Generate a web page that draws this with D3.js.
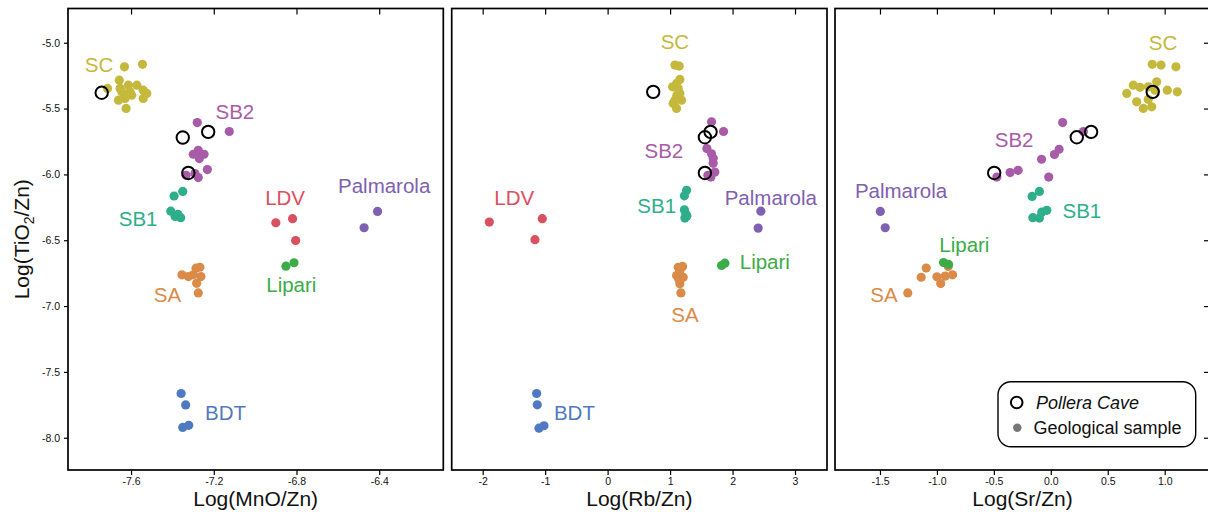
<!DOCTYPE html>
<html>
<head>
<meta charset="utf-8">
<script src="https://cdn.jsdelivr.net/npm/d3@7"></script>
<style>
  body { margin: 0; background: #fff; }
  svg { display: block; font-family: "Liberation Sans", Arial, Helvetica, sans-serif; }
</style>
</head>
<body>
<svg></svg>
<script>
// groups, in draw order
const groupNames = ["BDT", "SA", "Lipari", "Palmarola", "LDV", "SB1", "SB2", "SC"];
const groupColors = ["#4f7ac2", "#da8b48", "#3cac48", "#8060b0", "#d9505f", "#2eae8b", "#a85ca8", "#c4b93c"];

// Log(MnO/Zn) vs Log(TiO2/Zn)
const mnoBDT = [[-7.358, -7.664], [-7.336, -7.751], [-7.350, -7.922], [-7.321, -7.906]];
const mnoSA = [[-7.354, -6.763], [-7.323, -6.776], [-7.299, -6.763], [-7.286, -6.712], [-7.267, -6.705], [-7.262, -6.776], [-7.283, -6.827], [-7.275, -6.900]];
const mnoLipari = [[-6.851, -6.697], [-6.812, -6.671]];
const mnoPalmarola = [[-6.408, -6.281], [-6.473, -6.405]];
const mnoLDV = [[-6.900, -6.367], [-6.819, -6.336], [-6.804, -6.502]];
const mnoSB1 = [[-7.392, -6.164], [-7.350, -6.129], [-7.408, -6.279], [-7.387, -6.319], [-7.360, -6.329], [-7.373, -6.304]];
const mnoSB2 = [[-7.280, -5.606], [-7.125, -5.674], [-7.275, -5.817], [-7.299, -5.847], [-7.247, -5.847], [-7.270, -5.880], [-7.231, -5.963], [-7.291, -5.994], [-7.275, -6.024], [-7.334, -6.007]];
const mnoSC = [[-7.632, -5.183], [-7.545, -5.164], [-7.657, -5.284], [-7.714, -5.347], [-7.653, -5.347], [-7.613, -5.322], [-7.572, -5.322], [-7.541, -5.360], [-7.524, -5.385], [-7.541, -5.423], [-7.597, -5.398], [-7.629, -5.423], [-7.661, -5.436], [-7.624, -5.499], [-7.605, -5.373], [-7.645, -5.373]];
const mnoCave = [[-7.742, -5.380], [-7.350, -5.720], [-7.227, -5.677], [-7.323, -5.989]];

// Log(Rb/Zn) vs Log(TiO2/Zn)
const rbBDT = [[-1.136, -7.664], [-1.126, -7.750], [-1.099, -7.927], [-1.019, -7.909]];
const rbSA = [[1.130, -6.705], [1.200, -6.699], [1.104, -6.768], [1.210, -6.781], [1.157, -6.831], [1.173, -6.900], [1.157, -6.730], [1.141, -6.798]];
const rbLipari = [[1.824, -6.692], [1.877, -6.674]];
const rbPalmarola = [[2.453, -6.279], [2.410, -6.408]];
const rbLDV = [[-1.894, -6.362], [-1.046, -6.336], [-1.163, -6.496]];
const rbSB1 = [[1.264, -6.121], [1.229, -6.163], [1.229, -6.269], [1.253, -6.300], [1.237, -6.332], [1.269, -6.315]];
const rbSB2 = [[1.664, -5.601], [1.856, -5.674], [1.589, -5.804], [1.664, -5.843], [1.690, -5.877], [1.690, -5.916], [1.717, -5.982], [1.653, -6.020], [1.605, -6.007]];
const rbSC = [[1.077, -5.170], [1.146, -5.177], [1.157, -5.279], [1.104, -5.309], [1.040, -5.335], [1.130, -5.347], [1.157, -5.385], [1.184, -5.436], [1.077, -5.436], [1.050, -5.461], [1.104, -5.499], [1.109, -5.398]];
const rbCave = [[0.730, -5.373], [1.557, -5.718], [1.648, -5.677], [1.557, -5.989]];

// Log(Sr/Zn) vs Log(TiO2/Zn)
const srBDT = [];
const srSA = [[-1.094, -6.711], [-1.138, -6.781], [-1.000, -6.778], [-0.967, -6.829], [-0.927, -6.772], [-0.863, -6.763], [-0.901, -6.699], [-1.256, -6.900]];
const srLipari = [[-0.942, -6.669], [-0.898, -6.684]];
const srPalmarola = [[-1.497, -6.281], [-1.454, -6.405]];
const srLDV = [];
const srSB1 = [[-0.164, -6.167], [-0.100, -6.129], [-0.158, -6.329], [-0.100, -6.332], [-0.079, -6.286], [-0.035, -6.273]];
const srSB2 = [[0.104, -5.606], [0.286, -5.674], [0.073, -5.809], [0.032, -5.849], [-0.081, -5.885], [-0.018, -6.020], [-0.287, -5.969], [-0.357, -5.986], [-0.474, -6.020]];
const srSC = [[0.891, -5.164], [0.968, -5.170], [1.099, -5.183], [0.725, -5.322], [0.783, -5.339], [0.856, -5.335], [0.930, -5.297], [0.667, -5.385], [0.754, -5.449], [0.812, -5.499], [0.886, -5.487], [0.856, -5.431], [1.023, -5.360], [1.111, -5.373], [0.915, -5.360]];
const srCave = [[0.895, -5.373], [0.228, -5.718], [0.354, -5.677], [-0.497, -5.989]];

// ticks
const yTicks = [-5.0, -5.5, -6.0, -6.5, -7.0, -7.5, -8.0];
const mnoTicks = [-7.6, -7.2, -6.8, -6.4];
const rbTicks = [-2, -1, 0, 1, 2, 3];
const srTicks = [-1.5, -1.0, -0.5, 0.0, 0.5, 1.0];

const legendLabels = ["Pollera Cave", "Geological sample"];

// group label anchors (data units, text baseline), same order as groupNames
const mnoLabelAt = [[-7.143, -7.866], [-7.424, -6.971], [-6.825, -6.895], [-6.376, -6.142], [-6.855, -6.235], [-7.566, -6.391], [-7.098, -5.581], [-7.755, -5.223]];
const rbLabelAt = [[-0.531, -7.866], [1.237, -7.118], [2.517, -6.715], [2.613, -6.235], [-1.494, -6.235], [0.786, -6.294], [0.901, -5.877], [1.077, -5.050]];
const srLabelAt = [null, [-1.465, -6.971], [-0.759, -6.593], [-1.315, -6.180], null, [0.273, -6.332], [-0.322, -5.791], [0.985, -5.056]];

const W = 1208, H = 515;
const plotTop = 8.5, plotBottom = 470;
const svg = d3.select("svg").attr("width", W).attr("height", H);

const y = d3.scaleLinear().domain([-8.245, -4.74]).range([plotBottom, plotTop]);
const fmt1 = d => d3.format(".1f")(d).replace("\u2212", "-");
const fmt0 = d => d3.format("d")(d).replace("\u2212", "-");

const panels = [
  { x0: 68, x1: 443.3, domain: [-7.905, -6.09], ticks: mnoTicks, fmt: fmt1, title: "Log(MnO/Zn)",
    series: [mnoBDT, mnoSA, mnoLipari, mnoPalmarola, mnoLDV, mnoSB1, mnoSB2, mnoSC], cave: mnoCave, labels: mnoLabelAt, yLeft: true },
  { x0: 451.7, x1: 827, domain: [-2.496, 3.512], ticks: rbTicks, fmt: fmt0, title: "Log(Rb/Zn)",
    series: [rbBDT, rbSA, rbLipari, rbPalmarola, rbLDV, rbSB1, rbSB2, rbSC], cave: rbCave, labels: rbLabelAt },
  { x0: 835, x1: 1210, domain: [-1.895, 1.398], ticks: srTicks, fmt: fmt1, title: "Log(Sr/Zn)",
    series: [srBDT, srSA, srLipari, srPalmarola, srLDV, srSB1, srSB2, srSC], cave: srCave, labels: srLabelAt, yRight: true, legend: true }
];

function styleAxis(g, fontSize) {
  g.select(".domain").remove();
  g.selectAll(".tick line").attr("stroke", "#000").attr("stroke-width", 1.2);
  g.selectAll(".tick text").attr("fill", "#111").style("font-size", fontSize + "px")
    .style("font-family", "'Liberation Sans', Arial, sans-serif");
}

panels.forEach(p => {
  const x = d3.scaleLinear().domain(p.domain).range([p.x0, p.x1]);
  const g = svg.append("g");

  // bottom axis, outward ticks
  g.append("g").attr("transform", `translate(0,${plotBottom})`)
    .call(d3.axisBottom(x).tickValues(p.ticks).tickFormat(p.fmt).tickSizeOuter(0).tickSize(5).tickPadding(3))
    .call(a => styleAxis(a, 10.5));

  // top axis, inward ticks
  g.append("g").attr("transform", `translate(0,${plotTop})`)
    .call(d3.axisBottom(x).tickValues(p.ticks).tickFormat("").tickSizeOuter(0).tickSize(6))
    .call(a => styleAxis(a, 10));

  if (p.yLeft) {
    g.append("g").attr("transform", `translate(${p.x0},0)`)
      .call(d3.axisLeft(y).tickValues(yTicks).tickFormat(fmt1).tickSizeOuter(0).tickSize(4).tickPadding(4))
      .call(a => styleAxis(a, 10.5));
  }
  if (p.yRight) {
    g.append("g").attr("transform", `translate(${p.x1},0)`)
      .call(d3.axisLeft(y).tickValues(yTicks).tickFormat("").tickSizeOuter(0).tickSize(6))
      .call(a => styleAxis(a, 10));
  }

  // frame
  g.append("rect")
    .attr("x", p.x0).attr("y", plotTop)
    .attr("width", p.x1 - p.x0).attr("height", plotBottom - plotTop)
    .attr("fill", "none").attr("stroke", "#000").attr("stroke-width", 1.7);

  // geological samples
  p.series.forEach((pts, i) => {
    g.append("g").selectAll("circle").data(pts).enter().append("circle")
      .attr("cx", d => x(d[0]))
      .attr("cy", d => y(d[1]))
      .attr("r", 4.6)
      .attr("fill", groupColors[i]);
  });

  // Pollera Cave samples
  g.append("g").selectAll("circle").data(p.cave).enter().append("circle")
    .attr("cx", d => x(d[0]))
    .attr("cy", d => y(d[1]))
    .attr("r", 6.2)
    .attr("fill", "none")
    .attr("stroke", "#000")
    .attr("stroke-width", 2);

  // group labels
  p.labels.forEach((l, i) => {
    if (!l) return;
    g.append("text")
      .attr("x", x(l[0])).attr("y", y(l[1]))
      .attr("text-anchor", "middle")
      .attr("fill", groupColors[i])
      .style("font-size", "20.5px")
      .text(groupNames[i]);
  });

  // x title
  g.append("text")
    .attr("x", (p.x0 + p.x1) / 2).attr("y", 506)
    .attr("text-anchor", "middle")
    .style("font-size", "21px")
    .attr("fill", "#111")
    .text(p.title);

  if (p.legend) {
    const lg = svg.append("g");
    lg.append("rect")
      .attr("x", 998).attr("y", 381.7).attr("width", 197.7).attr("height", 65)
      .attr("rx", 13).attr("ry", 13)
      .attr("fill", "#fff").attr("stroke", "#000").attr("stroke-width", 1.4);
    lg.append("circle").attr("cx", 1016.7).attr("cy", 402.5).attr("r", 5.8)
      .attr("fill", "none").attr("stroke", "#000").attr("stroke-width", 2);
    lg.append("text").attr("x", 1036).attr("y", 408.8)
      .style("font-size", "18px").style("font-style", "italic").attr("fill", "#111")
      .text(legendLabels[0]);
    lg.append("circle").attr("cx", 1017.3).attr("cy", 427.7).attr("r", 4.2).attr("fill", "#777");
    lg.append("text").attr("x", 1033.5).attr("y", 433.8)
      .style("font-size", "18px").attr("fill", "#111")
      .text(legendLabels[1]);
  }
});

// y title
const yTitle = svg.append("text")
  .attr("transform", `translate(29,${(plotTop + plotBottom) / 2}) rotate(-90)`)
  .attr("text-anchor", "middle")
  .style("font-size", "21px")
  .attr("fill", "#111");
yTitle.append("tspan").text("Log(TiO");
yTitle.append("tspan").attr("dy", 5).style("font-size", "14px").text("2");
yTitle.append("tspan").attr("dy", -5).text("/Zn)");
</script>
</body>
</html>
